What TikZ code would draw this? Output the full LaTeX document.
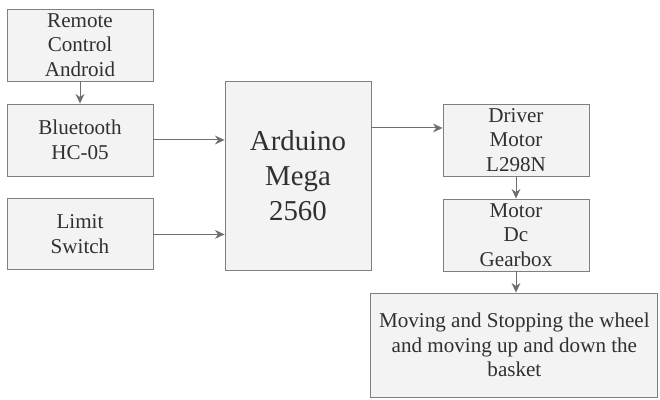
\documentclass[tikz,border=0pt]{standalone}
\usepackage{fontspec}
\setmainfont{Liberation Serif}
\usepackage{tikz}
\usetikzlibrary{arrows.meta,positioning}
\definecolor{boxfill}{HTML}{F3F3F3}
\definecolor{boxline}{HTML}{7F7F7F}
\definecolor{linkgray}{HTML}{6E6E6E}
\definecolor{txtgray}{HTML}{303030}

\begin{document}
\begin{tikzpicture}[
  >={Stealth[length=2.4mm,width=2.2mm]},
  block/.style={draw=boxline, line width=0.6pt, fill=boxfill, align=center, text=txtgray,
    font=\fontsize{15}{17.5}\selectfont, minimum width=3.65cm, minimum height=1.8cm, inner sep=1pt},
  mcu/.style={block, font=\fontsize{20.5}{25}\selectfont, minimum height=4.725cm},
  result/.style={block, minimum width=7.175cm, minimum height=2.6cm},
  link/.style={->, draw=linkgray, line width=0.7pt}
]
  \useasboundingbox (0,0) rectangle (16.5,10);
  % inputs
  \node[block] (remote) at (2.0,8.875) {Remote\\Control\\Android};
  \node[block] (bt) at (2.0,6.5) {Bluetooth\\HC-05};
  \node[block, minimum height=1.775cm] (limit) at (2.0,4.14) {Limit\\Switch};
  % controller
  \node[mcu] (arduino) at (7.45,5.61) {Arduino\\Mega\\2560};
  % outputs
  \node[block] (driver) at (12.9,6.5) {Driver\\Motor\\L298N};
  \node[block] (motor) at (12.9,4.125) {Motor\\Dc\\Gearbox};
  \node[result] (moving) at (12.86,1.375) {Moving and Stopping the wheel\\and moving up and down the\\basket};

  \coordinate (aout) at ([yshift=0.3cm]arduino.east |- driver.west);
  \draw[link] (remote) -- (bt);
  \draw[link] (bt.east) -- (bt.east -| arduino.west);
  \draw[link] (limit.east) -- (limit.east -| arduino.west);
  \draw[link] (aout) -- (driver.west |- aout);
  \draw[link] (driver) -- (motor);
  \draw[link] (motor.south) -- (moving.north -| motor.south);
\end{tikzpicture}
\end{document}
